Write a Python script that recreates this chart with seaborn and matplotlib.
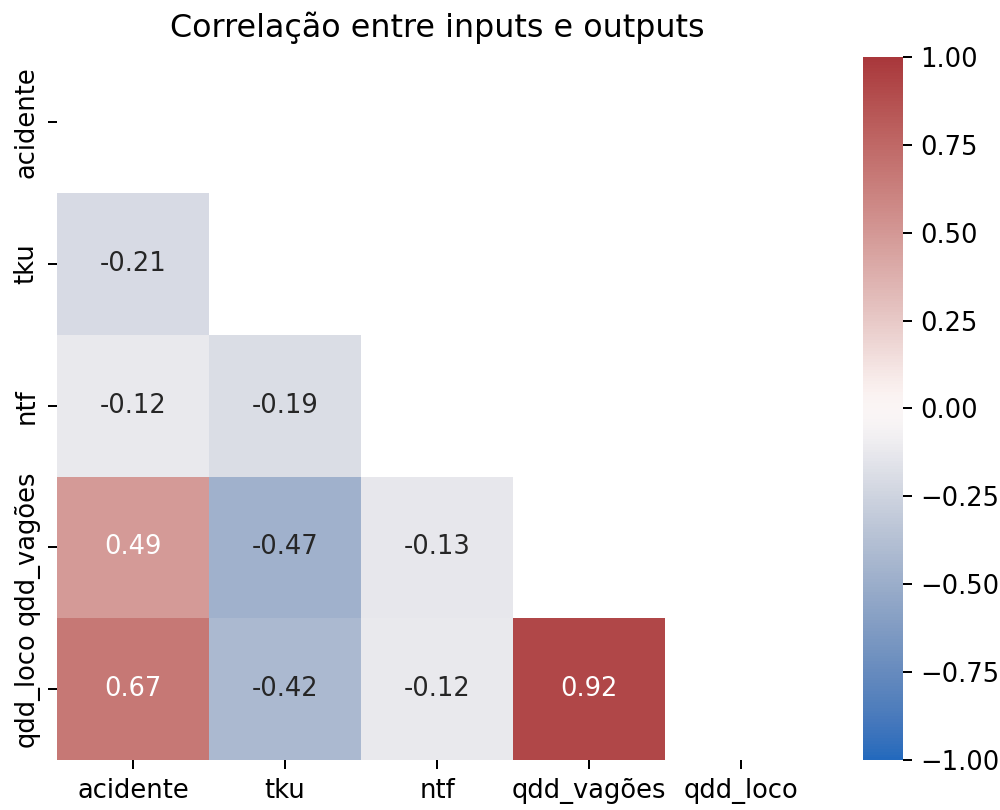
import numpy as np
import pandas as pd
import matplotlib
matplotlib.use("Agg")
import matplotlib.pyplot as plt
import seaborn as sns

# Variables in the correlation matrix
variables = ["acidente", "tku", "ntf", "qdd_vagões", "qdd_loco"]

# Lower-triangle correlations, row by row (below the diagonal)
corr_tku = [-0.21]
corr_ntf = [-0.12, -0.19]
corr_vagoes = [0.49, -0.47, -0.13]
corr_loco = [0.67, -0.42, -0.12, 0.92]

lower_rows = [[], corr_tku, corr_ntf, corr_vagoes, corr_loco]

n = len(variables)
mat = np.eye(n)
for i, row in enumerate(lower_rows):
    for j, v in enumerate(row):
        mat[i, j] = v
        mat[j, i] = v
corr = pd.DataFrame(mat, index=variables, columns=variables)

# Hide the diagonal and the upper triangle
mask = np.triu(np.ones_like(mat, dtype=bool))

plt.rcParams["font.size"] = 10.3

dpi = 180
fig = plt.figure(figsize=(1000 / dpi, 810 / dpi), dpi=dpi)
ax = fig.add_axes([0.057, 0.0617, 0.76, 0.8747])
cax = fig.add_axes([0.863, 0.0617, 0.040, 0.868])

sns.heatmap(corr, mask=mask, cmap="vlag", vmin=-1, vmax=1, center=0,
            annot=True, fmt=".2f", ax=ax, cbar_ax=cax)

ax.set_title("Correlação entre inputs e outputs", fontsize=12.7)
cax.set_yticks([-1, -0.75, -0.5, -0.25, 0, 0.25, 0.5, 0.75, 1.0])

fig.savefig("out.png", dpi=dpi)
